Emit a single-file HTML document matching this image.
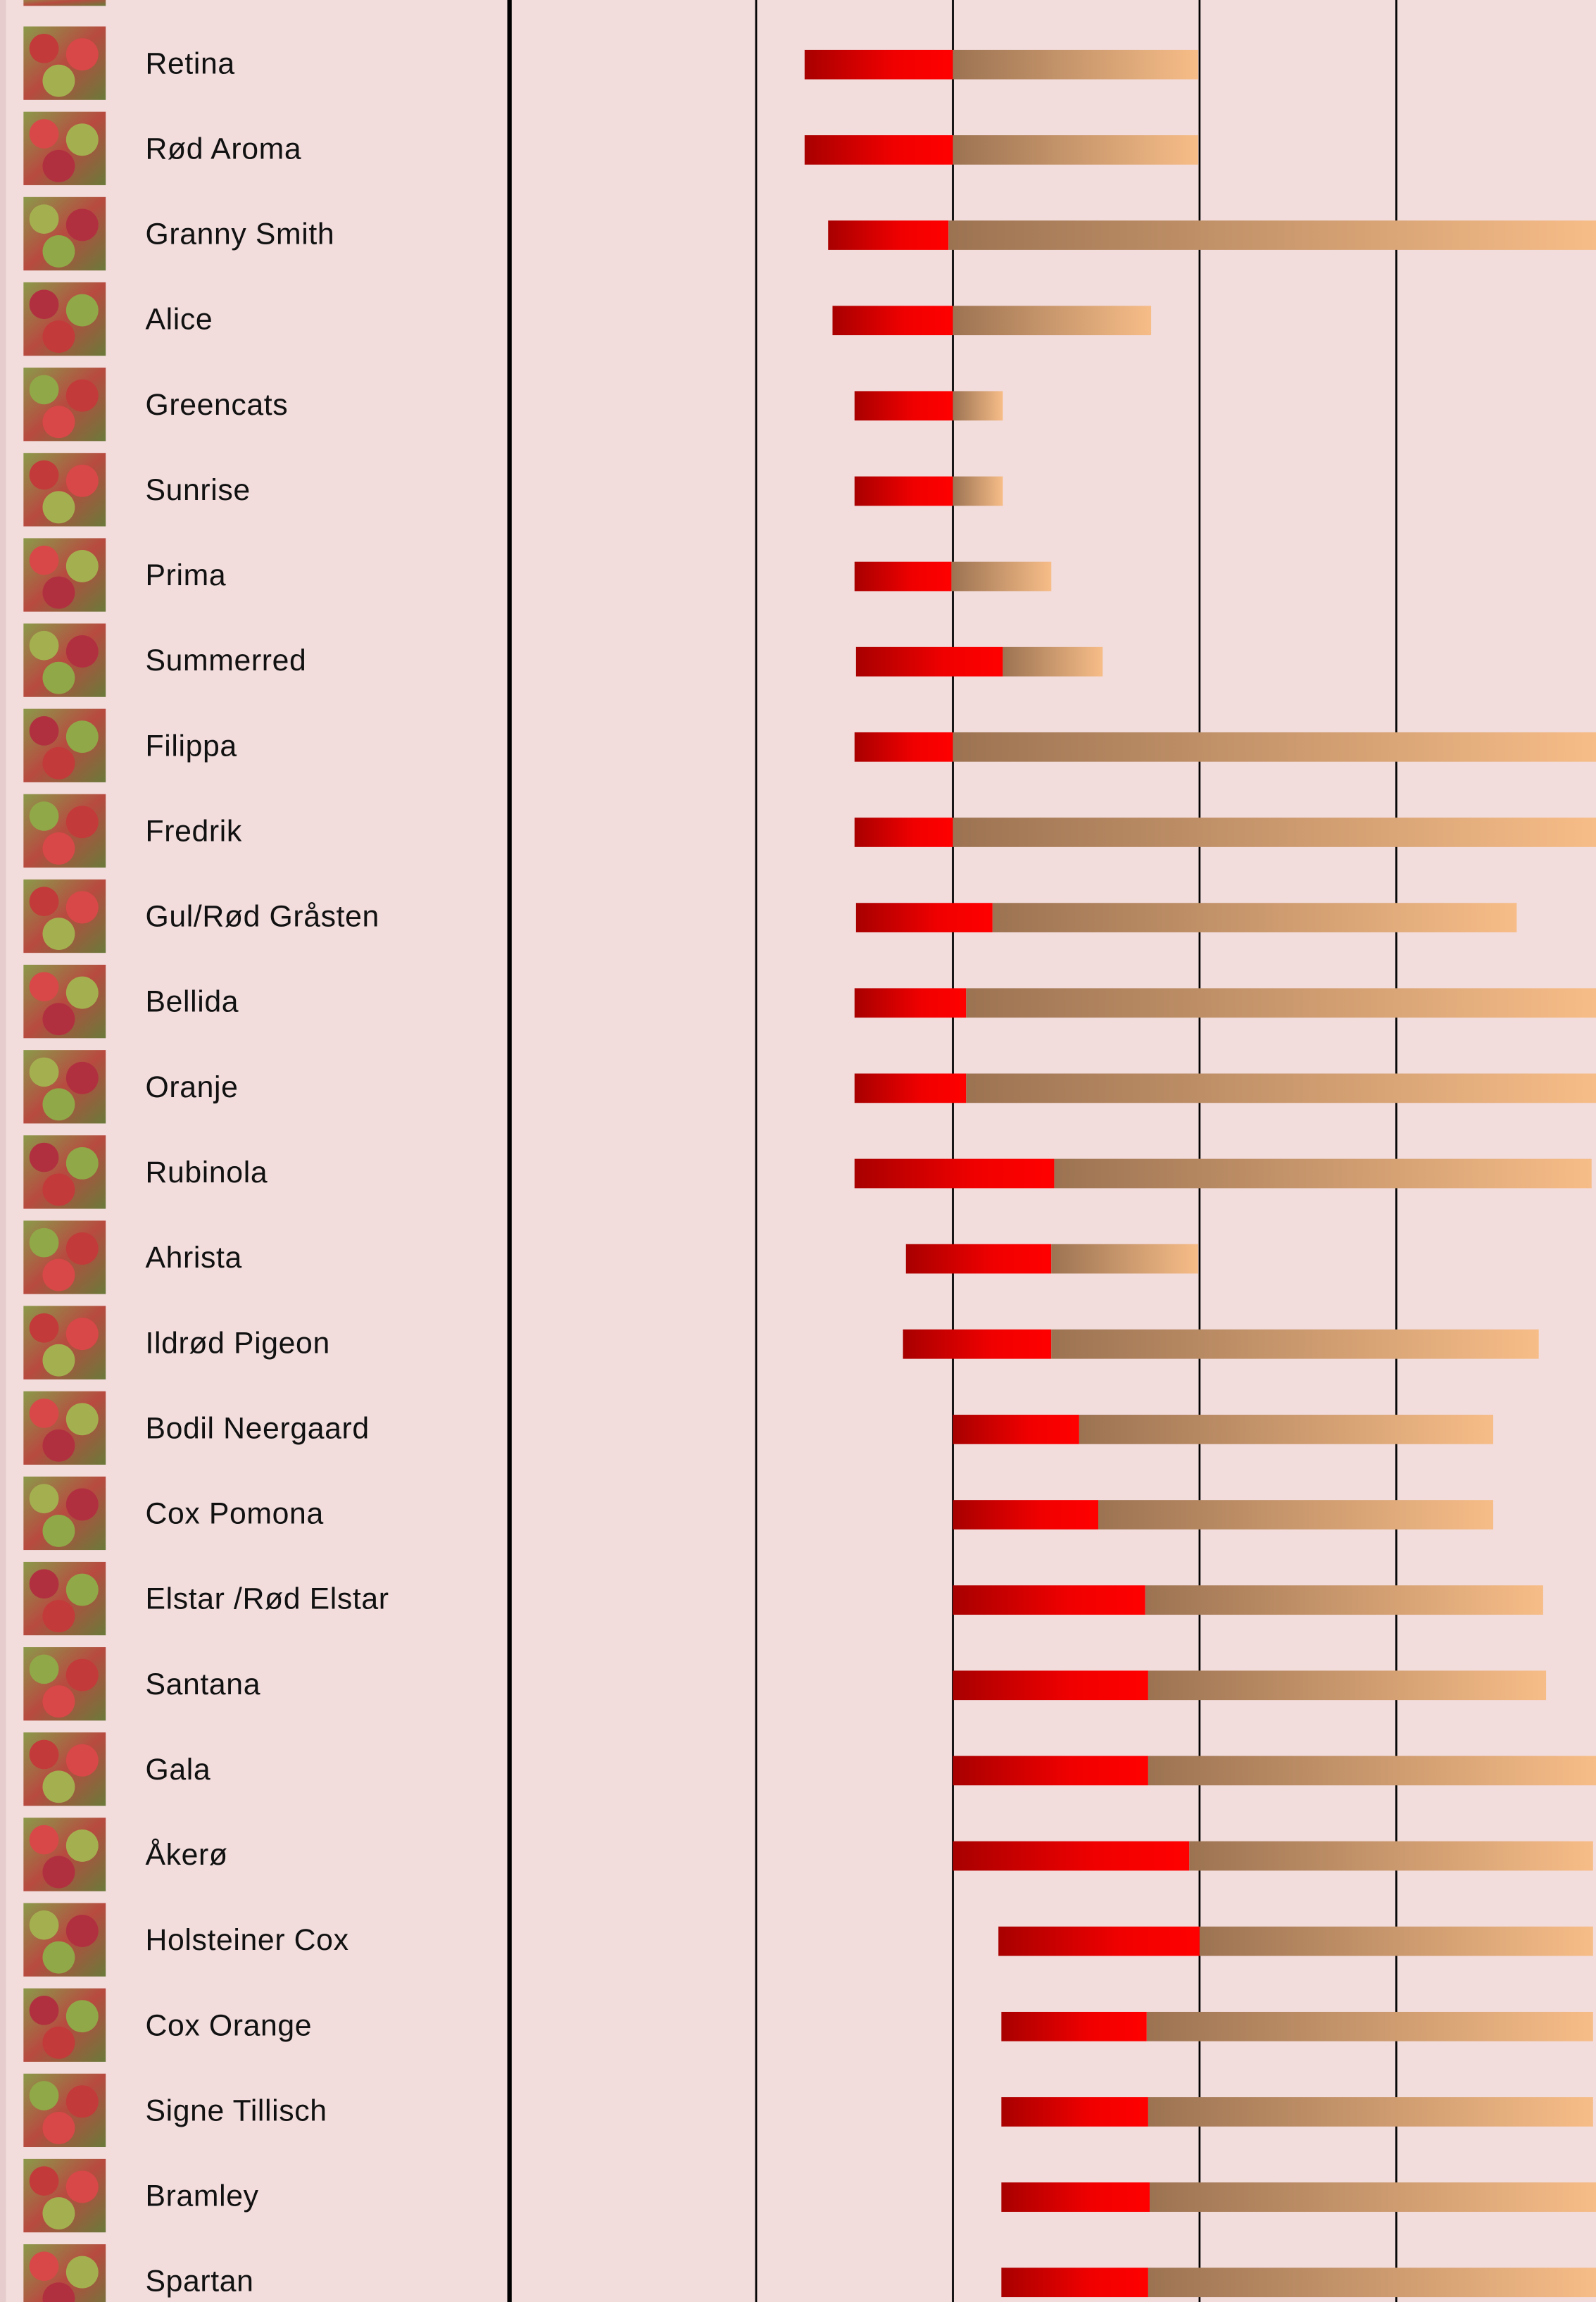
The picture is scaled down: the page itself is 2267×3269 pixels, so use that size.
<!DOCTYPE html>
<html><head><meta charset="utf-8"><style>
html,body{margin:0;padding:0;background:#f2dcdc;}
svg{display:block;}
text{font-family:"Liberation Sans",sans-serif;font-size:20.5px;letter-spacing:0.3px;fill:#111;}
</style></head><body>
<svg width="2267" height="3269" viewBox="0 0 1087 1567.4" preserveAspectRatio="none" xmlns="http://www.w3.org/2000/svg">
<defs>
<linearGradient id="r" x1="0" x2="1"><stop offset="0" stop-color="#a80000"/><stop offset="0.6" stop-color="#f00000"/><stop offset="1" stop-color="#ff0000"/></linearGradient>
<linearGradient id="t" x1="0" x2="1"><stop offset="0" stop-color="#9c7352"/><stop offset="1" stop-color="#f7bd88"/></linearGradient>
<linearGradient id="ic" x1="0" y1="0" x2="1" y2="1"><stop offset="0" stop-color="#8a9a4a"/><stop offset="0.5" stop-color="#b84a40"/><stop offset="1" stop-color="#6a7a3a"/></linearGradient>
</defs>
<rect width="1087" height="1567.4" fill="#f2dcdc"/>
<rect x="0" y="0" width="4" height="1567.4" fill="#e6cccc"/>
<line x1="347" y1="0" x2="347" y2="1567.4" stroke="#000" stroke-width="3"/>
<line x1="515" y1="0" x2="515" y2="1567.4" stroke="#000" stroke-width="1.3"/>
<line x1="649" y1="0" x2="649" y2="1567.4" stroke="#000" stroke-width="1.3"/>
<line x1="817" y1="0" x2="817" y2="1567.4" stroke="#000" stroke-width="1.3"/>
<line x1="951" y1="0" x2="951" y2="1567.4" stroke="#000" stroke-width="1.3"/>
<rect x="16" y="-2" width="56" height="6" fill="url(#ic)"/>
<g id="rows"></g>
</svg>
<script>
var d=[["Retina",548,649,816],["Rød Aroma",548,649,816],["Granny Smith",564,646,1087],["Alice",567,649,784],["Greencats",582,649,683],["Sunrise",582,649,683],["Prima",582,648,716],["Summerred",583,683,751],["Filippa",582,649,1087],["Fredrik",582,649,1087],["Gul/Rød Gråsten",583,676,1033],["Bellida",582,658,1087],["Oranje",582,658,1087],["Rubinola",582,718,1084],["Ahrista",617,716,816],["Ildrød Pigeon",615,716,1048],["Bodil Neergaard",649,735,1017],["Cox Pomona",649,748,1017],["Elstar /Rød Elstar",649,780,1051],["Santana",649,782,1053],["Gala",649,782,1087],["Åkerø",649,810,1085],["Holsteiner Cox",680,817,1085],["Cox Orange",682,781,1085],["Signe Tillisch",682,782,1085],["Bramley",682,783,1087],["Spartan",682,782,1087]];
var g=document.getElementById("rows"),s="";
var cols=["#c23a3a","#d84848","#a4b050","#b03040","#90a848"];
d.forEach(function(r,i){var y=43+58.08*i;
s+='<rect x="16" y="'+(y-25)+'" width="56" height="50" fill="url(#ic)"/>';
s+='<circle cx="30" cy="'+(y-10)+'" r="10" fill="'+cols[i%5]+'"/><circle cx="56" cy="'+(y-6)+'" r="11" fill="'+cols[(i+1)%5]+'"/><circle cx="40" cy="'+(y+12)+'" r="11" fill="'+cols[(i+2)%5]+'"/>';
s+='<text x="99" y="'+(y+7)+'">'+r[0]+'</text>';
s+='<rect x="'+r[1]+'" y="'+(y-9)+'" width="'+(r[2]-r[1])+'" height="20" fill="url(#r)"/>';
s+='<rect x="'+r[2]+'" y="'+(y-9)+'" width="'+(r[3]-r[2])+'" height="20" fill="url(#t)"/>';});
g.innerHTML=s;
</script>
</body></html>
